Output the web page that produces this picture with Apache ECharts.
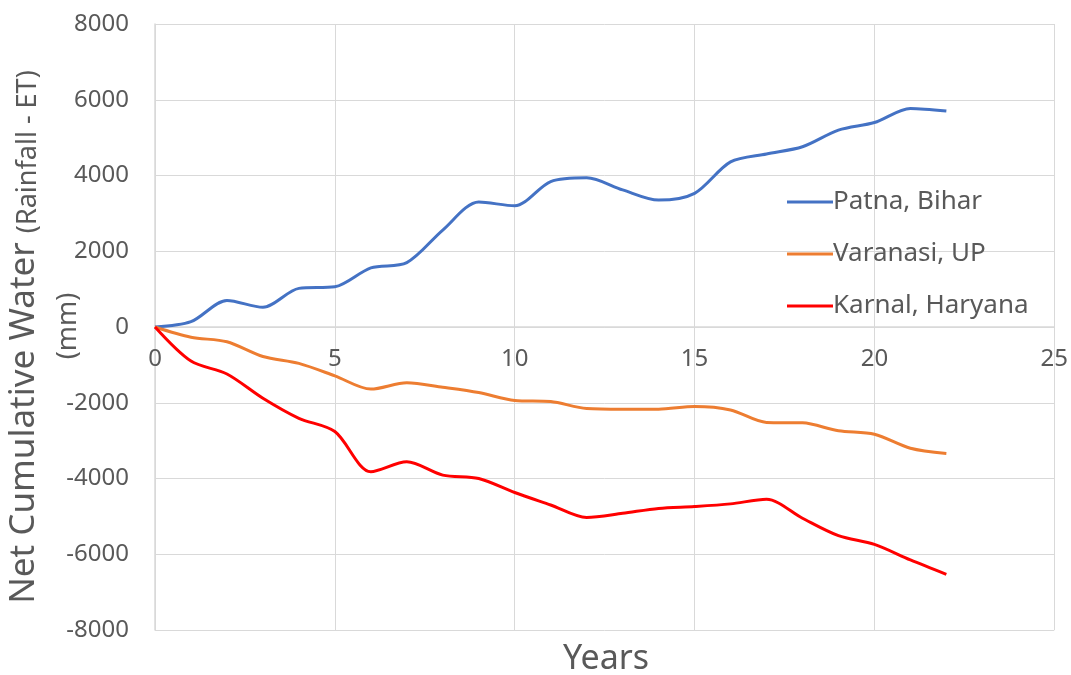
<!DOCTYPE html>
<html>
<head>
<meta charset="utf-8">
<script src="https://cdn.jsdelivr.net/npm/echarts@6/dist/echarts.min.js"></script>
<style>
  html, body { margin: 0; padding: 0; background: #fff; }
  #chart { width: 1071px; height: 675px; }
</style>
</head>
<body>
<div id="chart"></div>
<script>
// data
const years = [0, 1, 2, 3, 4, 5, 6, 7, 8, 9, 10, 11, 12, 13, 14, 15, 16, 17, 18, 19, 20, 21, 22]
const patna = [0, 140, 700, 520, 1020, 1060, 1560, 1700, 2560, 3300, 3200, 3840, 3940, 3620, 3350, 3530, 4360, 4570, 4760, 5200, 5400, 5770, 5700]
const varanasi = [0, -270, -390, -780, -960, -1290, -1640, -1470, -1590, -1730, -1940, -1970, -2150, -2170, -2170, -2100, -2190, -2520, -2530, -2740, -2830, -3200, -3340]
const karnal = [0, -900, -1240, -1880, -2410, -2760, -3820, -3560, -3910, -4000, -4370, -4700, -5030, -4920, -4790, -4740, -4670, -4550, -5050, -5510, -5740, -6150, -6530]
const seriesNames = ['Patna, Bihar', 'Varanasi, UP', 'Karnal, Haryana']
const colors = ['#4472C4', '#ED7D31', '#FF0000']

const chart = echarts.init(document.getElementById('chart'))
const font = '"Noto Sans", sans-serif'
const textColor = '#595959'
const gridColor = '#d9d9d9'

const pairs = vals => years.map((y, i) => [y, vals[i]])

const option = {
  animation: false,
  grid: { left: 155, right: 14, top: 24, bottom: 45 },
  legend: {
    orient: 'vertical',
    left: 782,
    top: 184,
    icon: 'rect',
    itemWidth: 46,
    itemHeight: 3,
    itemGap: 26,
    textStyle: { fontFamily: font, fontSize: 26, lineHeight: 26, color: textColor, padding: [0, 0, 0, -5] },
    data: seriesNames
  },
  xAxis: {
    type: 'value',
    min: 0,
    max: 25,
    interval: 5,
    // category line crosses at y = 0, which is the middle of the plot
    offset: -303,
    axisLine: { show: true, onZero: false, lineStyle: { color: gridColor, width: 1.5 } },
    axisTick: { show: false },
    axisLabel: { fontFamily: font, fontSize: 24, color: textColor, margin: 20 },
    splitLine: { show: true, lineStyle: { color: gridColor, width: 1 } }
  },
  yAxis: {
    type: 'value',
    min: -8000,
    max: 8000,
    interval: 2000,
    axisLine: { show: true, lineStyle: { color: gridColor, width: 1.5 } },
    axisTick: { show: false },
    axisLabel: { fontFamily: font, fontSize: 24, color: textColor, margin: 26, formatter: v => String(v) },
    splitLine: { show: true, lineStyle: { color: gridColor, width: 1 } }
  },
  graphic: [
    {
      type: 'text',
      x: 606, y: 659,
      style: { text: 'Years', fontFamily: font, fontSize: 34, fill: textColor, align: 'center', verticalAlign: 'middle' }
    },
    {
      type: 'text',
      x: 24, y: 337,
      rotation: Math.PI / 2,
      style: {
        text: '{a|Net Cumulative Water }{b|(Rainfall - ET)}',
        align: 'center',
        verticalAlign: 'middle',
        fill: textColor,
        rich: {
          a: { fontFamily: font, fontSize: 35, fill: textColor, verticalAlign: 'bottom' },
          b: { fontFamily: font, fontSize: 27, fill: textColor, verticalAlign: 'bottom' }
        }
      }
    },
    {
      type: 'text',
      x: 68, y: 326,
      rotation: Math.PI / 2,
      style: { text: '(mm)', fontFamily: font, fontSize: 27, fill: textColor, align: 'center', verticalAlign: 'middle' }
    }
  ],
  series: [patna, varanasi, karnal].map((vals, i) => ({
    name: seriesNames[i],
    type: 'line',
    data: pairs(vals),
    smooth: 0.3,
    showSymbol: false,
    symbol: 'none',
    lineStyle: { color: colors[i], width: 3 },
    itemStyle: { color: colors[i] }
  }))
}

chart.setOption(option)
</script>
</body>
</html>
